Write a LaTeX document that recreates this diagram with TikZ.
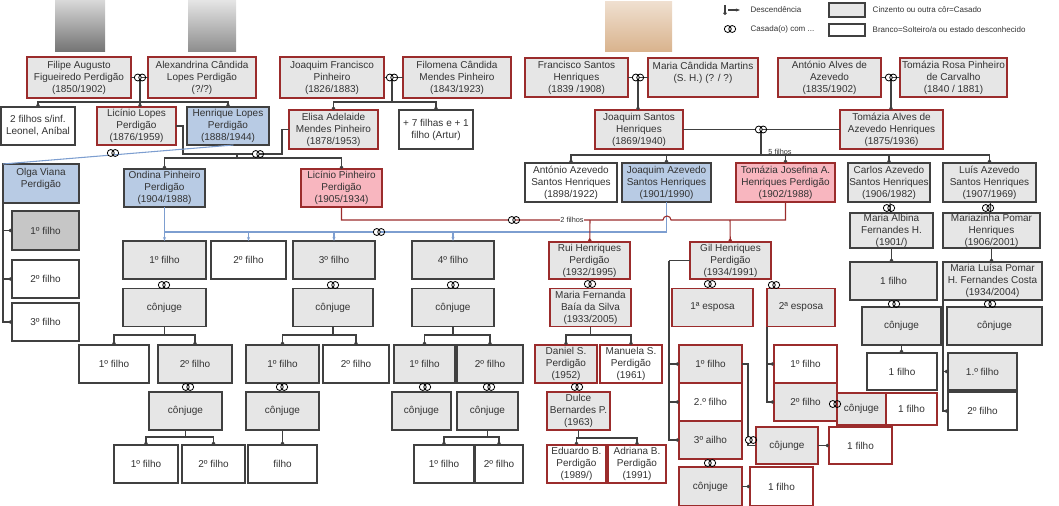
\documentclass[tikz,border=0pt]{standalone}
\usepackage{fontspec}
\setmainfont{Liberation Sans}
\usetikzlibrary{arrows.meta}

\definecolor{boxgray}{HTML}{E6E6E6}
\definecolor{darkgray}{HTML}{C6C6C6}
\definecolor{boxred}{HTML}{9B2C2C}
\definecolor{boxblue}{HTML}{B8CBE4}
\definecolor{boxpink}{HTML}{F8B6BF}
\definecolor{lineblue}{HTML}{7D9ED0}
\definecolor{textgray}{HTML}{333333}

\tikzset{
  p/.style={draw, line width=0.8pt, align=center, inner sep=0pt, outer sep=0pt,
    text=textgray, font=\fontsize{7.5}{9}\selectfont},
  sz/.style 2 args={minimum width={#1*0.75pt}, minimum height={#2*0.75pt}},
  gm/.style={p, fill=boxgray, draw=black!75},
  gr/.style={p, fill=boxgray, draw=boxred},
  wm/.style={p, fill=white, draw=black!75},
  wr/.style={p, fill=white, draw=boxred},
  bm/.style={p, fill=boxblue, draw=black!75},
  pr/.style={p, fill=boxpink, draw=boxred},
  dm/.style={p, fill=darkgray, draw=black!75},
  lnk/.style={draw=black!75, line width=0.8pt},
  desc/.style={lnk, -{Circle[length=2.6pt]}},
  rlnk/.style={draw=boxred, line width=0.8pt},
  rdesc/.style={rlnk, -{Circle[length=2.6pt]}},
  blnk/.style={draw=lineblue, line width=0.8pt},
  bdesc/.style={blnk, -{Stealth[length=3pt]}},
  rings/.pic={
    \filldraw[fill=white, draw=black, line width=0.6pt] (-2.2,0) circle[radius=2.6pt];
    \draw[black, line width=0.6pt] (2.2,0) circle[radius=2.6pt];
  }
}

\begin{document}
\begin{tikzpicture}[x=0.75pt, y=-0.75pt]
  \useasboundingbox (0,0) rectangle (1059,506);

  % photos
  \shade[top color=black!15, bottom color=black!55] (55,0) rectangle (105,52);
  \shade[top color=black!10, bottom color=black!45] (188,0) rectangle (236,52);
  \shade[top color=brown!25, bottom color=brown!60] (605,2) rectangle (672,52);

  % legend
  \draw[desc] (725,5) -- (725,15);
  \draw[lnk, -{Stealth[length=3pt]}] (728,10) -- (740,10);
  \node[anchor=west, font=\fontsize{6}{7}\selectfont, text=textgray] (lgd1) at (746,10) {Descendência};
  \pic at (730,29) {rings};
  \node[anchor=west, font=\fontsize{6}{7}\selectfont, text=textgray] (lgd2) at (746,29) {Casada(o) com ...};
  \node[gm, sz={36}{14}] (lgbox1) at (847,10) {};
  \node[wm, sz={36}{12}] (lgbox2) at (847,30) {};
  \node[anchor=west, font=\fontsize{6}{7}\selectfont, text=textgray] (lgd3) at (868,10) {Cinzento ou outra côr=Casado};
  \node[anchor=west, font=\fontsize{6}{7}\selectfont, text=textgray] (lgd4) at (868,30) {Branco=Solteiro/a ou estado desconhecido};

  % first generation
  \node[gr, sz={104}{41}] (filipe) at (79,77.5) {Filipe Augusto\\Figueiredo Perdigão\\(1850/1902)};
  \node[gr, sz={108}{41}] (alexandrina) at (202,77.5) {Alexandrina Cândida\\Lopes Perdigão\\(?/?)};
  \node[gr, sz={104}{41}] (joaqF) at (332,77.5) {Joaquim Francisco\\Pinheiro\\(1826/1883)};
  \node[gr, sz={108}{41}] (filomena) at (457,77.5) {Filomena Cândida\\Mendes Pinheiro\\(1843/1923)};
  \node[gr, sz={103}{39}] (francisco) at (576.5,77.5) {Francisco Santos\\Henriques\\(1839 /1908)};
  \node[gr, sz={110}{39}] (mariaC) at (703,77.5) {Maria Cândida Martins\\(S. H.) (? / ?)\\\mbox{}};
  \node[gr, sz={103}{39}] (antonioAA) at (829.5,77.5) {António Alves de\\Azevedo\\(1835/1902)};
  \node[gr, sz={107}{39}] (tomaziaR) at (953.5,77.5) {Tomázia Rosa Pinheiro\\de Carvalho\\(1840 / 1881)};

  % second generation
  \node[wm, sz={74}{38}] (twoF) at (38,126) {2 filhos s/inf.\\Leonel, Aníbal};
  \node[gr, sz={79}{38}] (licinioL) at (136.5,126) {Licínio Lopes\\Perdigão\\(1876/1959)};
  \node[bm, sz={82}{38}] (henrique) at (228,126) {Henrique Lopes\\Perdigão\\(1888/1944)};
  \node[gr, sz={89}{39}] (elisa) at (333.5,129.5) {Elisa Adelaide\\Mendes Pinheiro\\(1878/1953)};
  \node[wm, sz={74}{39}] (mais7) at (436,129.5) {+ 7 filhas e + 1\\filho (Artur)};
  \node[gr, sz={88}{39}] (joaqS) at (639,129.5) {Joaquim Santos\\Henriques\\(1869/1940)};
  \node[gr, sz={103}{39}] (tomaziaA) at (891.5,129.5) {Tomázia Alves de\\Azevedo Henriques\\(1875/1936)};

  % third generation
  \node[bm, sz={76}{39}] (olga) at (41,183.5) {Olga Viana\\Perdigão\\\mbox{}};
  \node[bm, sz={81}{38}] (ondina) at (164.5,188) {Ondina Pinheiro\\Perdigão\\(1904/1988)};
  \node[pr, sz={81}{38}] (licinioP) at (341.5,188) {Licínio Pinheiro\\Perdigão\\(1905/1934)};
  \node[wm, sz={92}{39}] (antonioAz) at (571,182.5) {António Azevedo\\Santos Henriques\\(1898/1922)};
  \node[bm, sz={89}{39}] (joaqAz) at (666.5,182.5) {Joaquim Azevedo\\Santos Henriques\\(1901/1990)};
  \node[pr, sz={99}{39}] (tomaziaJ) at (785.5,182.5) {Tomázia Josefina A.\\Henriques Perdigão\\(1902/1988)};
  \node[gm, sz={82}{39}] (carlos) at (889,182.5) {Carlos Azevedo\\Santos Henriques\\(1906/1982)};
  \node[gm, sz={93}{39}] (luis) at (989.5,182.5) {Luís Azevedo\\Santos Henriques\\(1907/1969)};
  \node[gm, sz={83}{35}] (albina) at (891.5,230.5) {Maria Albina\\Fernandes H.\\(1901/)};
  \node[gm, sz={97}{35}] (mariazinha) at (991.5,230.5) {Mariazinha Pomar\\Henriques\\(1906/2001)};

  \node[dm, sz={67}{39}] (ok1) at (45.5,230.5) {1º filho};
  \node[wm, sz={67}{38}] (ok2) at (45.5,279) {2º filho};
  \node[wm, sz={67}{38}] (ok3) at (45.5,322) {3º filho};

  % fourth generation
  \node[gm, sz={83}{38}] (f1) at (164.5,260) {1º filho};
  \node[wm, sz={75}{38}] (f2) at (248.5,260) {2º filho};
  \node[gm, sz={82}{38}] (f3) at (334,260) {3º filho};
  \node[gm, sz={82}{38}] (f4) at (453,260) {4º filho};
  \node[gr, sz={81}{37}] (rui) at (589.5,260.5) {Rui Henriques\\Perdigão\\(1932/1995)};
  \node[gr, sz={81}{37}] (gil) at (730.5,260.5) {Gil Henriques\\Perdigão\\(1934/1991)};

  \node[gm, sz={83}{38}] (c1) at (164.5,307.5) {cônjuge};
  \node[gm, sz={80}{38}] (c3) at (333,307.5) {cônjuge};
  \node[gm, sz={82}{38}] (c4) at (453,307.5) {cônjuge};
  \node[gr, sz={81}{38}] (mariaF) at (590.5,307.5) {Maria Fernanda\\Baía da Silva\\(1933/2005)};
  \node[gr, sz={81}{38}] (esp1) at (712.5,307.5) {1ª esposa};
  \node[gr, sz={68}{38}] (esp2) at (801,307.5) {2ª esposa};
  \node[gm, sz={87}{38}] (filhoA) at (893.5,281) {1 filho};
  \node[gm, sz={99}{38}] (mluisa) at (992.5,281) {Maria Luísa Pomar\\H. Fernandes Costa\\(1934/2004)};
  \node[gm, sz={79}{38}] (conjC) at (901.5,326) {cônjuge};
  \node[gm, sz={95}{38}] (conjL) at (994.5,326) {cônjuge};

  % fifth generation
  \node[wm, sz={70}{38}] (g1) at (114,364) {1º filho};
  \node[gm, sz={74}{38}] (g2) at (195,364) {2º filho};
  \node[gm, sz={73}{38}] (g3) at (282.5,364) {1º filho};
  \node[wm, sz={66}{38}] (g4) at (356,364) {2º filho};
  \node[gm, sz={61}{38}] (g5) at (424.5,364) {1º filho};
  \node[gm, sz={66}{38}] (g6) at (490,364) {2º filho};
  \node[gr, sz={62}{38}] (daniel) at (566,364) {Daniel S.\\Perdigão\\(1952)};
  \node[wr, sz={62}{38}] (manuela) at (631,364) {Manuela S.\\Perdigão\\(1961)};
  \node[gr, sz={63}{38}] (gf1) at (710.5,364) {1º filho};
  \node[wr, sz={63}{38}] (gf2) at (710.5,402) {2.º filho};
  \node[gr, sz={63}{38}] (gf3) at (710.5,440) {3º ailho};
  \node[wr, sz={63}{38}] (ef1) at (805.5,364) {1º filho};
  \node[gr, sz={63}{38}] (ef2) at (805.5,402) {2º filho};
  \node[gr, sz={49}{32}] (conjE) at (861.5,409) {cônjuge};
  \node[wr, sz={51}{32}] (filhoE) at (911.5,409) {1 filho};
  \node[gr, sz={62}{37}] (cojunge) at (787,445.5) {côjunge};
  \node[wr, sz={63}{37}] (filhoJ) at (860.5,445.5) {1 filho};
  \node[gr, sz={63}{39}] (conjG) at (710.5,486.5) {cônjuge};
  \node[wr, sz={63}{39}] (filhoG) at (781.5,486.5) {1 filho};
  \node[wm, sz={70}{37}] (filhoC) at (902,371.5) {1 filho};
  \node[gm, sz={69}{37}] (lf1) at (982.5,371.5) {1.º filho};
  \node[wm, sz={69}{38}] (lf2) at (982.5,411) {2º filho};

  \node[gm, sz={73}{38}] (cg2) at (185.5,411) {cônjuge};
  \node[gm, sz={73}{38}] (cg3) at (282.5,411) {cônjuge};
  \node[gm, sz={59}{38}] (cg5) at (421.5,411) {cônjuge};
  \node[gm, sz={61}{38}] (cg6) at (487.5,411) {cônjuge};
  \node[gr, sz={63}{38}] (dulce) at (578.5,411) {Dulce\\Bernardes P.\\(1963)};

  \node[wm, sz={64}{38}] (h1) at (146,464) {1º filho};
  \node[wm, sz={63}{38}] (h2) at (213.5,464) {2º filho};
  \node[wm, sz={69}{38}] (h3) at (282.5,464) {filho};
  \node[wm, sz={60}{38}] (h4) at (444,464) {1º filho};
  \node[wm, sz={48}{38}] (h5) at (499,464) {2º filho};
  \node[wr, sz={59}{38}] (eduardo) at (576.5,464) {Eduardo B.\\Perdigão\\(1989/)};
  \node[wr, sz={58}{38}] (adriana) at (637,464) {Adriana B.\\Perdigão\\(1991)};

  % Perdigão
  \coordinate (fa) at (140,77.5);
  \draw[lnk] (filipe) -- (alexandrina);
  \draw[desc] (fa) -- (fa |- licinioL.north);
  \draw[desc] (fa |- 0,102) -| (twoF);
  \draw[desc] (fa |- 0,102) -| (henrique);
  \coordinate (jf) at (392,77.5);
  \draw[lnk] (joaqF) -- (filomena);
  \draw[lnk] (jf) -- (jf |- 0,102);
  \draw[desc] (jf |- 0,102) -| (elisa);
  \draw[desc] (jf |- 0,102) -| (mais7);
  \draw[lnk] (licinioL.east) -| (183,154) -- (282,154) |- (elisa.west);
  \coordinate (le) at (237,158);
  \draw[lnk] (237,154) -- (le);
  \draw[desc] (le) -| (ondina);
  \draw[desc] (le) -| (licinioP);
  \draw[blnk] ([xshift=4pt]henrique.south) -- (olga.north west);
  \draw[desc] (olga.south west) |- (ok1);
  \draw[desc] (olga.south west) |- (ok2);
  \draw[desc] (olga.south west) |- (ok3);

  % Henriques
  \coordinate (fm) at (638,77.5);
  \draw[lnk] (francisco) -- (mariaC);
  \draw[desc] (fm) -- (fm |- joaqS.north);
  \coordinate (at) at (891,77.5);
  \draw[lnk] (antonioAA) -- (tomaziaR);
  \draw[desc] (at) -- (at |- tomaziaA.north);
  \coordinate (jt) at (761,155);
  \draw[lnk] (joaqS) -- (tomaziaA);
  \draw[lnk] (761,129.5) -- (jt);
  \foreach \kid in {antonioAz, joaqAz, tomaziaJ, carlos, luis}
    \draw[desc] (jt) -| (\kid);
  \node[font=\fontsize{5.5}{6}\selectfont, text=textgray] (cinco) at (780,152) {5 filhos};
  \draw[lnk] (carlos) -- (albina);
  \draw[lnk] (luis) -- (mariazinha);
  \draw[desc] (albina.south) -- (albina.south |- filhoA.north);
  \draw[desc] (mariazinha.south) -- (mariazinha.south |- mluisa.north);
  \draw[desc] (conjC.south) -- (conjC.south |- filhoC.north);
  \draw[desc] (mluisa.south west) |- (lf1);
  \draw[desc] (mluisa.south west) |- (lf2);

  % Licínio and Tomázia, Ondina and Joaquim
  \draw[blnk] (ondina.south) |- (joaqAz.south |- 0,232) -- (joaqAz.south);
  \foreach \kid in {f1, f2, f3, f4}
    \draw[bdesc] (\kid.north |- 0,232) -- (\kid.north);
  \draw[rlnk] (licinioP.south) |- (663,220) arc[start angle=180, end angle=0, radius=3pt] -| (tomaziaJ.south);
  \coordinate (rb) at (590,220);
  \coordinate (gb) at (730,220);
  \draw[rdesc] (rb) -- (rui);
  \draw[rdesc] (gb) -- (gil);
  \node[fill=white, inner sep=0.5pt, font=\fontsize{5.5}{6}\selectfont, text=textgray] (dois) at (572,220) {2 filhos};

  % Ondina's descendants
  \draw[lnk] (c1) -- (c1.south |- 0,335);
  \draw[desc] (c1.south |- 0,335) -| (g1);
  \draw[desc] (c1.south |- 0,335) -| (g2);
  \draw[lnk] (c3) -- (c3.south |- 0,335);
  \draw[desc] (c3.south |- 0,335) -| (g3);
  \draw[desc] (c3.south |- 0,335) -| (g4);
  \draw[lnk] (c4) -- (c4.south |- 0,335);
  \draw[desc] (c4.south |- 0,335) -| (g5);
  \draw[desc] (c4.south |- 0,335) -| (g6);
  \draw[lnk] (cg2) -- (cg2.south |- 0,437);
  \draw[desc] (cg2.south |- 0,437) -| (h1);
  \draw[desc] (cg2.south |- 0,437) -| (h2);
  \draw[desc] (cg3) -- (h3);
  \draw[lnk] (cg6) -- (cg6.south |- 0,437);
  \draw[desc] (cg6.south |- 0,437) -| (h4);
  \draw[desc] (cg6.south |- 0,437) -| (h5);

  % Rui and Gil
  \draw[lnk] (mariaF) -- (mariaF.south |- 0,335);
  \draw[desc] (mariaF.south |- 0,335) -| (daniel);
  \draw[desc] (mariaF.south |- 0,335) -| (manuela);
  \draw[lnk] (dulce) -- (dulce.south |- 0,438);
  \draw[desc] (dulce.south |- 0,438) -| (eduardo);
  \draw[desc] (dulce.south |- 0,438) -| (adriana);
  \coordinate (gk) at (669,260.5);
  \draw[lnk] (gil.west) -- (gk);
  \draw[desc] (gk) |- (gf1);
  \draw[desc] (gk) |- (gf2);
  \draw[desc] (gk) |- (gf3);
  \draw[desc] (esp2.south west) |- (ef1);
  \draw[desc] (esp2.south west) |- (ef2);
  \draw[lnk] (gf1.east) -| (748,445.5) -- (cojunge.west);
  \draw[desc] (cojunge) -- (filhoJ);
  \draw[desc] (conjG) -- (filhoG);

  % marriages
  \foreach \x/\y in {140/77.5, 392/77.5, 638/77.5, 891/77.5, 761/129.5, 258/154, 113/153,
      514/220, 379/232, 889/208, 988/208, 894/304, 990/304, 164/285, 333/285, 453/285,
      188/387, 282/387, 425/387, 489/387, 590/284, 577/387, 710/284, 774/285, 710/463,
      835/404, 751/440}
    \pic at (\x,\y) {rings};
\end{tikzpicture}
\end{document}
